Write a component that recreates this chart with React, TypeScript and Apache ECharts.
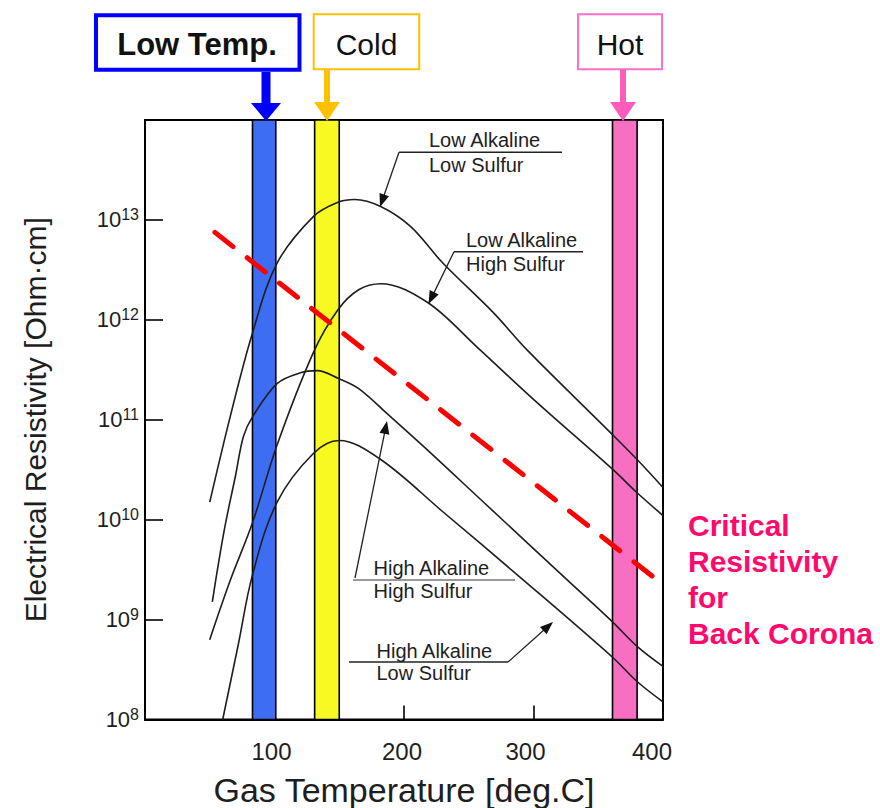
import React, { useEffect, useRef } from "react";
import * as echarts from "echarts";

const FONT = "'Liberation Sans', Arial, Helvetica, sans-serif";

// Gas temperature [deg.C] and electrical resistivity [Ohm·cm]
const lowAlkLowSulfurTemp = [50, 66, 83, 102, 130, 149, 162, 182, 205, 230, 269, 295, 361, 380, 400];
const lowAlkLowSulfurRes = [1.5e10, 1.1e11, 7.4e11, 3.7e12, 1.08e13, 1.5e13, 1.6e13, 1.36e13, 8.6e12, 3.7e12, 1.18e12, 5.0e11, 7.1e10, 4.0e10, 2.1e10];

const lowAlkHighSulfurTemp = [50, 66, 83, 102, 130, 149, 165, 182, 218, 256, 300, 361, 380, 400];
const lowAlkHighSulfurRes = [6.3e8, 2.5e9, 9.3e9, 5.6e10, 4.7e11, 1.26e12, 2.0e12, 2.3e12, 1.5e12, 5.4e11, 1.6e11, 3.2e10, 1.86e10, 1.1e10];

const highAlkHighSulfurTemp = [52, 56, 62, 70, 76, 83, 102, 120, 133, 149, 165, 187, 218, 259, 326, 361, 380, 400];
const highAlkHighSulfurRes = [1.5e9, 3.2e9, 8.9e9, 2.8e10, 6.8e10, 1.07e11, 2.3e11, 2.95e11, 3.1e11, 2.6e11, 2.05e11, 1.15e11, 5.0e10, 1.6e10, 2.5e9, 9.5e8, 5.4e8, 3.4e8];

const highAlkLowSulfurTemp = [60, 72, 83, 102, 130, 150, 182, 230, 292, 361, 380, 400];
const highAlkLowSulfurRes = [1.0e8, 5.6e8, 2.8e9, 1.5e10, 4.6e10, 6.2e10, 4.0e10, 1.2e10, 2.5e9, 4.2e8, 2.4e8, 1.5e8];

// critical resistivity for back corona (red dashed line)
const criticalTemp = [54, 392];
const criticalRes = [7.5e12, 2.7e9];

// operating temperature zones
const zoneNames = ["Low Temp.", "Cold", "Hot"];
const zoneStart = [83, 131, 361];
const zoneEnd = [101, 150, 380];
const zoneFill = ["#3d6df2", "#f8f822", "#f86fc1"];

const xTickValues = [100, 200, 300, 400];
const xLabelShift = [6, 4, 16, 22];

const xTitle = "Gas Temperature [deg.C]";
const yTitle = "Electrical Resistivity [Ohm·cm]";
const criticalLabel = "Critical\nResistivity\nfor\nBack Corona";

function arrowHead(fx: number, fy: number, tx: number, ty: number, len = 13, hw = 5) {
  const dx = tx - fx, dy = ty - fy;
  const L = Math.hypot(dx, dy);
  const ux = dx / L, uy = dy / L;
  const bx = tx - ux * len, by = ty - uy * len;
  return [[tx, ty], [bx - uy * hw, by + ux * hw], [bx + uy * hw, by - ux * hw]];
}

function txt(x: number, y: number, text: string, size: number, extra: any = {}) {
  return {
    type: "text",
    x,
    y,
    z: 10,
    silent: true,
    style: {
      text,
      fontSize: size,
      fontFamily: FONT,
      fill: "#1e1e1e",
      align: "left",
      textAlign: "left",
      verticalAlign: "middle",
      textVerticalAlign: "middle",
      ...extra,
    },
  };
}

function leader(points: number[][], tip: number[]) {
  const from = points[points.length - 1];
  const out: any[] = [];
  if (points.length > 1) {
    out.push({
      type: "polyline",
      z: 10,
      silent: true,
      shape: { points },
      style: { stroke: "#222", lineWidth: 1.5, fill: null },
    });
  }
  out.push(
    {
      type: "line",
      z: 10,
      silent: true,
      shape: { x1: from[0], y1: from[1], x2: tip[0] - (tip[0] - from[0]) * 0.04, y2: tip[1] - (tip[1] - from[1]) * 0.04 },
      style: { stroke: "#222", lineWidth: 1.3 },
    },
    {
      type: "polygon",
      z: 10,
      silent: true,
      shape: { points: arrowHead(from[0], from[1], tip[0], tip[1]) },
      style: { fill: "#111" },
    }
  );
  return out;
}

function downArrow(x: number, y0: number, y1: number, shaftW: number, headW: number, headH: number, color: string) {
  return [
    { type: "line", z: 10, silent: true, shape: { x1: x, y1: y0, x2: x, y2: y1 - headH + 1 }, style: { stroke: color, lineWidth: shaftW } },
    {
      type: "polygon",
      z: 10,
      silent: true,
      shape: { points: [[x - headW / 2, y1 - headH], [x + headW / 2, y1 - headH], [x, y1]] },
      style: { fill: color },
    },
  ];
}

export default function App() {
  const ref = useRef<HTMLDivElement>(null);

  useEffect(() => {
    if (!ref.current) return;
    const chart = echarts.init(ref.current, null, { renderer: "svg" });

    const curves = [
      [lowAlkLowSulfurTemp, lowAlkLowSulfurRes],
      [lowAlkHighSulfurTemp, lowAlkHighSulfurRes],
      [highAlkHighSulfurTemp, highAlkHighSulfurRes],
      [highAlkLowSulfurTemp, highAlkLowSulfurRes],
    ];

    const curveSeries = curves.map(([t, r]) => ({
      type: "line",
      data: t.map((v, i) => [v, r[i]]),
      smooth: 0.35,
      showSymbol: false,
      silent: true,
      z: 2,
      lineStyle: { color: "#1e1e1e", width: 1.6 },
    }));

    const zoneSeries = {
      type: "line",
      data: [],
      z: 3,
      silent: true,
      markArea: {
        silent: true,
        label: { show: false },
        itemStyle: { borderColor: "#000", borderWidth: 1.6, opacity: 1 },
        data: zoneNames.map((n, i) => [
          { name: "", xAxis: zoneStart[i], itemStyle: { color: zoneFill[i], borderColor: "#000", borderWidth: 1.6, opacity: 1 } },
          { xAxis: zoneEnd[i] },
        ]),
      },
    };

    const criticalSeries = {
      type: "line",
      data: criticalTemp.map((t, i) => [t, criticalRes[i]]),
      showSymbol: false,
      silent: true,
      z: 5,
      lineStyle: { color: "#ff0000", width: 5, type: [23, 18], cap: "round" },
    };

    const graphics: any[] = [];
    // header boxes
    graphics.push({ type: "rect", z: 10, silent: true, shape: { x: 96, y: 15.3, width: 203.5, height: 54.5 }, style: { fill: "#fff", stroke: "#0000ff", lineWidth: 4 } });
    graphics.push(txt(197, 44.5, zoneNames[0], 31, { fontWeight: "bold", align: "center", textAlign: "center", fill: "#111" }));
    graphics.push({ type: "rect", z: 10, silent: true, shape: { x: 313.7, y: 14.3, width: 105.5, height: 55 }, style: { fill: "#fff", stroke: "#ffc000", lineWidth: 2 } });
    graphics.push(txt(366.5, 44, zoneNames[1], 30, { align: "center", textAlign: "center", fill: "#111" }));
    graphics.push({ type: "rect", z: 10, silent: true, shape: { x: 578, y: 14.3, width: 84, height: 55 }, style: { fill: "#fff", stroke: "#ff6ec7", lineWidth: 2 } });
    graphics.push(txt(620, 44, zoneNames[2], 30, { align: "center", textAlign: "center", fill: "#111" }));
    graphics.push(...downArrow(266, 72, 121, 9, 30, 18, "#0000ff"));
    graphics.push(...downArrow(327, 70, 121, 6, 26, 19, "#ffc000"));
    graphics.push(...downArrow(623, 70, 121, 6, 26, 19, "#ff5cbc"));

    // curve annotations
    graphics.push(txt(429, 139.7, "Low Alkaline", 20));
    graphics.push(txt(429, 165, "Low Sulfur", 20));
    graphics.push(...leader([[562, 152.3], [399, 152.3]], [380, 207]));

    graphics.push(txt(466, 239.7, "Low Alkaline", 20));
    graphics.push(txt(466, 264, "High Sulfur", 20));
    graphics.push(...leader([[583, 251.7], [454, 251.7]], [428.5, 304]));

    graphics.push({ type: "line", z: 10, silent: true, shape: { x1: 353, y1: 580, x2: 515, y2: 580 }, style: { stroke: "#9a9a9a", lineWidth: 2 } });
    graphics.push(txt(373.5, 568, "High Alkaline", 20));
    graphics.push(txt(373.5, 591.3, "High Sulfur", 20));
    graphics.push(...leader([[355, 578]], [387, 421]));

    graphics.push(txt(376.5, 651.3, "High Alkaline", 20));
    graphics.push(txt(376.5, 673, "Low Sulfur", 20));
    graphics.push(...leader([[349, 662], [508, 662]], [553, 622]));

    // critical resistivity label
    graphics.push(
      txt(688, 507, criticalLabel, 30, { fontWeight: "bold", fill: "#ff0a6c", verticalAlign: "top", textVerticalAlign: "top", lineHeight: 36 })
    );

    const xRich: any = {};
    xTickValues.forEach((v, i) => {
      xRich["p" + v] = { fontSize: 24, fontFamily: FONT, color: "#1e1e1e", padding: [0, xLabelShift[i], 0, 0] };
    });

    chart.setOption({
      animation: false,
      backgroundColor: "#ffffff",
      grid: {
        left: 145,
        right: 217,
        top: 120,
        bottom: 88.5,
        show: true,
        borderColor: "#000",
        borderWidth: 2,
        backgroundColor: "transparent",
        containLabel: false,
        outerBoundsMode: "none",
      },
      xAxis: {
        type: "value",
        min: 0,
        max: 400,
        interval: 100,
        name: xTitle,
        nameLocation: "middle",
        nameGap: 53,
        nameTextStyle: { fontSize: 34, fontFamily: FONT, color: "#1e1e1e" },
        axisLine: { show: true, lineStyle: { color: "#000", width: 2 } },
        axisTick: { show: true, inside: true, length: 14, lineStyle: { color: "#000", width: 1.6 } },
        splitLine: { show: false },
        axisLabel: {
          margin: 20,
          showMinLabel: true,
          showMaxLabel: true,
          hideOverlap: false,
          formatter: (v: number) => (v === 0 ? "" : `{p${v}|${v}}`),
          rich: xRich,
        },
      },
      yAxis: {
        type: "log",
        logBase: 10,
        min: 1e8,
        max: 1e14,
        splitNumber: 6,
        name: yTitle,
        nameLocation: "middle",
        nameRotate: 90,
        nameGap: 95,
        nameTextStyle: { fontSize: 30, fontFamily: FONT, color: "#1e1e1e" },
        axisLine: { show: true, lineStyle: { color: "#000", width: 2 } },
        axisTick: { show: true, inside: true, length: 18, lineStyle: { color: "#000", width: 1.6 } },
        minorTick: { show: false },
        splitLine: { show: false },
        axisLabel: {
          margin: 6,
          showMinLabel: true,
          showMaxLabel: true,
          formatter: (v: number) => {
            const e = Math.round(Math.log10(v));
            if (e >= 14) return "";
            return `{b|10}{s|${e}}`;
          },
          rich: {
            b: { fontSize: 22, fontFamily: FONT, color: "#1e1e1e", lineHeight: 26 },
            s: { fontSize: 16, fontFamily: FONT, color: "#1e1e1e", lineHeight: 14, verticalAlign: "top" },
          },
        },
      },
      series: [...curveSeries, zoneSeries, criticalSeries],
      graphic: { elements: graphics },
    } as any);

    return () => chart.dispose();
  }, []);

  return <div ref={ref} style={{ position: "fixed", left: 0, top: 0, width: 880, height: 808 }} />;
}
